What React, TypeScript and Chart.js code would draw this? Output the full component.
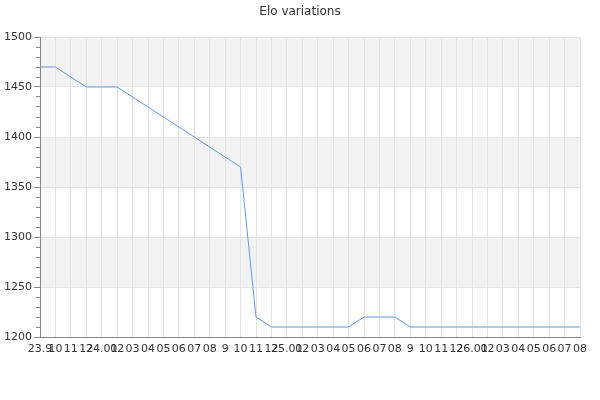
import React, { useEffect, useRef } from "react";
import { Chart, registerables } from "chart.js";

Chart.register(...registerables);

// month labels as the source prints them (month 9 has no leading zero)
const labels = [
  "23.9", "10", "11", "12",
  "24.01", "02", "03", "04", "05", "06", "07", "08", "9", "10", "11", "12",
  "25.01", "02", "03", "04", "05", "06", "07", "08", "9", "10", "11", "12",
  "26.01", "02", "03", "04", "05", "06", "07", "08",
];

const elo = [
  1470, 1470, 1460, 1450,
  1450, 1450, 1440, 1430, 1420, 1410, 1400, 1390, 1380, 1370, 1220, 1210,
  1210, 1210, 1210, 1210, 1210, 1220, 1220, 1220, 1210, 1210, 1210, 1210,
  1210, 1210, 1210, 1210, 1210, 1210, 1210, 1210,
];

const yMin = 1200;
const yMax = 1500;
const yMajor = 50;
const yMinor = 10;

// grey band behind every other 50-point strip
const bandsPlugin = {
  id: "bands",
  beforeDraw(chart: Chart) {
    const { ctx, chartArea, scales } = chart;
    const y = scales.y;
    ctx.save();
    ctx.fillStyle = "#f2f2f2";
    for (let v = yMin; v < yMax; v += yMajor) {
      if ((v / yMajor) % 2 === 1) {
        const top = y.getPixelForValue(v + yMajor);
        const bottom = y.getPixelForValue(v);
        ctx.fillRect(chartArea.left, top, chartArea.right - chartArea.left, bottom - top);
      }
    }
    ctx.restore();
  },
};

const App = () => {
  const canvasRef = useRef<HTMLCanvasElement>(null);
  const chartRef = useRef<Chart | null>(null);

  useEffect(() => {
    document.body.style.margin = "0";
    if (!canvasRef.current) return;
    chartRef.current?.destroy();

    Chart.defaults.font.family = "'DejaVu Sans', sans-serif";
    Chart.defaults.color = "#333";

    chartRef.current = new Chart(canvasRef.current, {
      type: "line",
      data: {
        labels,
        datasets: [
          {
            data: elo,
            borderColor: "#6495ed",
            borderWidth: 1,
            pointRadius: 0,
            tension: 0,
            fill: false,
          },
        ],
      },
      options: {
        responsive: true,
        maintainAspectRatio: false,
        animation: false,
        layout: { padding: 0 },
        plugins: {
          legend: { display: false },
          tooltip: { enabled: false },
          title: {
            display: true,
            text: "Elo variations",
            color: "#333",
            font: { size: 12, weight: "normal" },
            padding: { top: 5, bottom: 17.6 },
          },
        },
        scales: {
          x: {
            offset: false,
            afterFit: (s: any) => { s.height = 63; },
            grid: {
              color: "#e3e3e3",
              drawTicks: false,
            },
            border: { color: "#888" },
            ticks: {
              autoSkip: false,
              maxRotation: 0,
              minRotation: 0,
              padding: 6,
              font: { size: 11 },
              color: "#333",
            },
          },
          y: {
            min: yMin,
            max: yMax,
            afterFit: (s: any) => { s.width = 40; },
            grid: {
              color: (c: any) => (c.tick && c.tick.value % yMajor === 0 ? "#e3e3e3" : "rgba(0,0,0,0)"),
              tickColor: "#888",
              tickLength: 6,
              tickBorderDash: (c: any) => (c.tick && c.tick.value % yMajor === 0 ? [] : [0, 2, 10]),
            },
            border: { color: "#888" },
            ticks: {
              stepSize: yMinor,
              autoSkip: false,
              padding: 2,
              font: { size: 11 },
              color: "#333",
              callback: (v: any) => (Number(v) % yMajor === 0 ? String(v) : ""),
            },
          },
          // empty spacer on the right so the title stays centred on the canvas
          spacer: {
            type: "linear",
            position: "right",
            afterFit: (s: any) => { s.width = 20; },
            grid: { display: false },
            border: { display: false },
            ticks: { display: false },
          },
        },
      },
      plugins: [bandsPlugin],
    });

    return () => chartRef.current?.destroy();
  }, []);

  return (
    <div style={{ position: "relative", width: 600, height: 400 }}>
      <canvas ref={canvasRef} />
    </div>
  );
};

export default App;
